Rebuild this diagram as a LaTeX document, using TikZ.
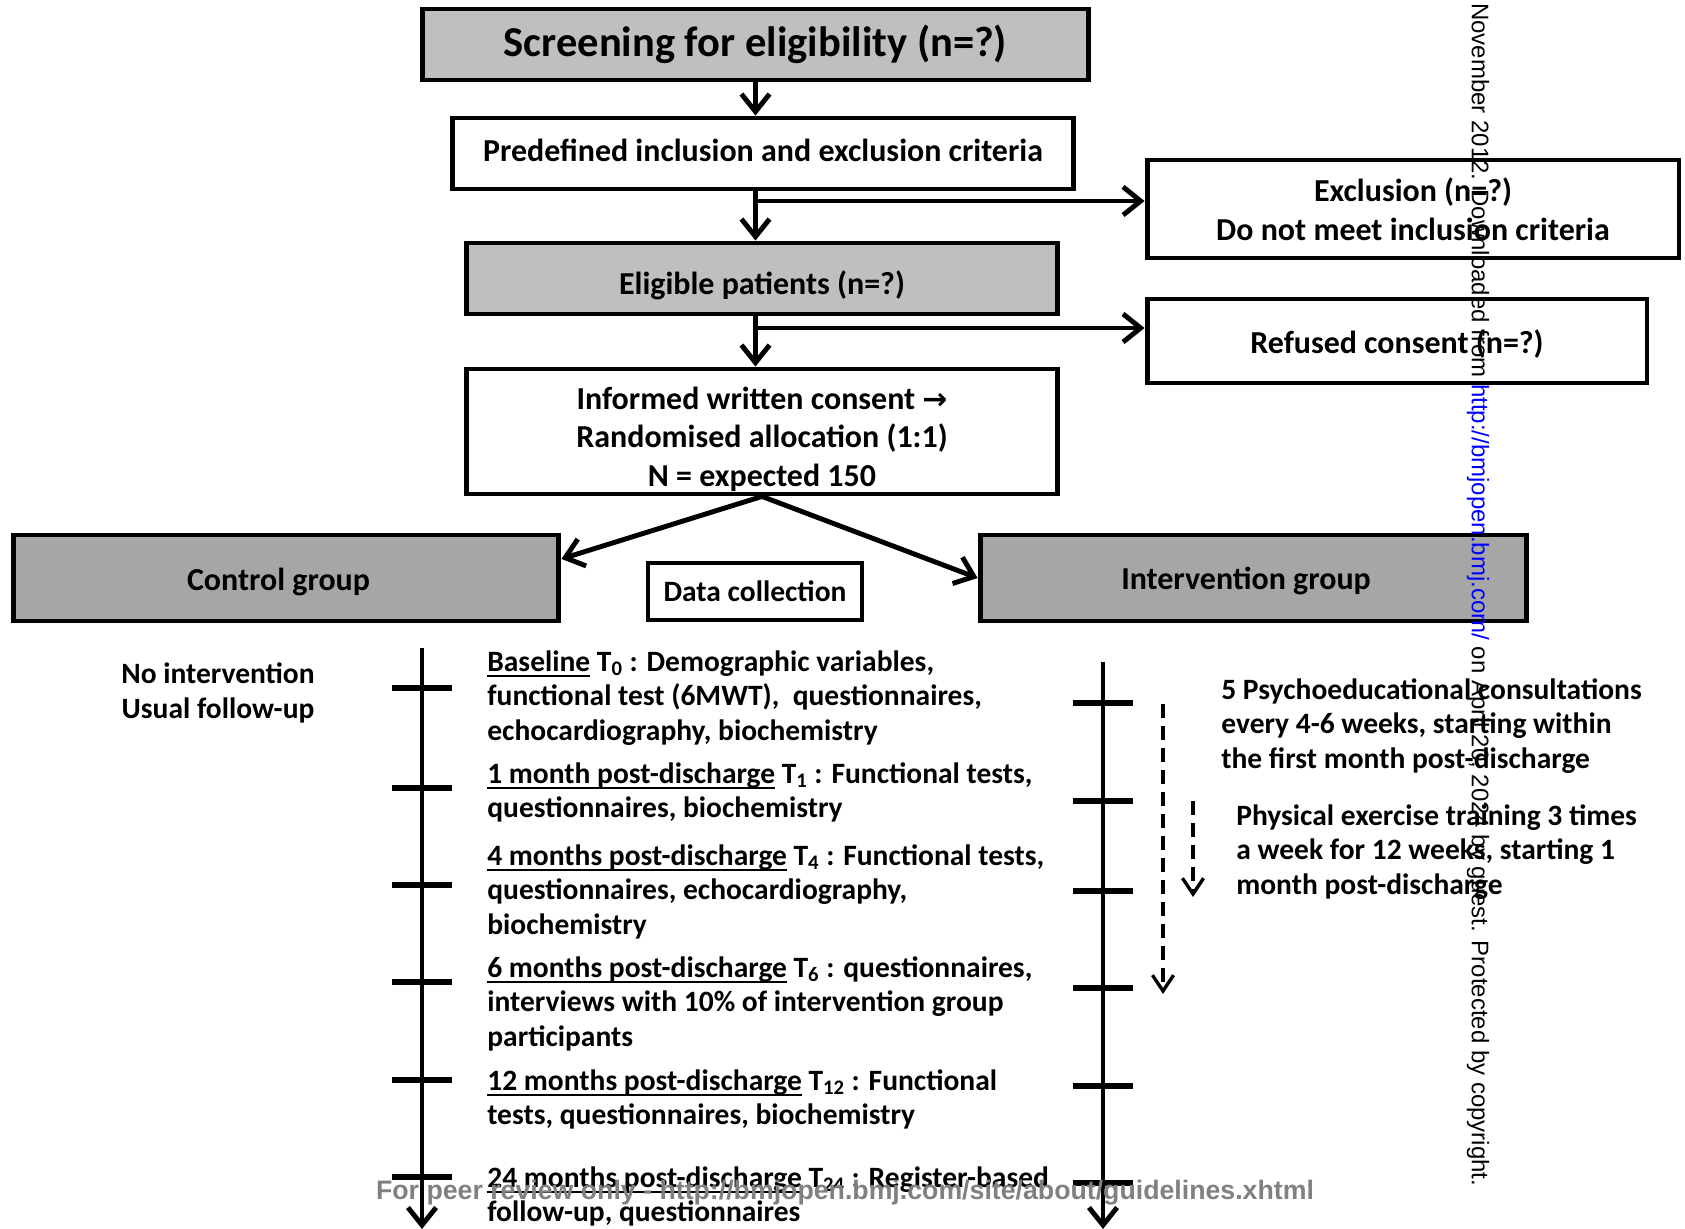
\documentclass[tikz,border=0pt]{standalone}
\usepackage{fontspec}
\usetikzlibrary{arrows.meta,positioning,calc}
\newfontfamily\calfont{Carlito}
\newfontfamily\symb{DejaVu Sans}
\newfontfamily\arialf{Liberation Sans}
\definecolor{boxGrey}{RGB}{191,191,191}
\definecolor{grpGrey}{RGB}{166,166,166}
\definecolor{wmGrey}{RGB}{128,128,128}
% strut that pushes a box text down (#1 = first line height)
\newcommand{\lowtext}[1]{\rule{0pt}{#1}}
% underline close to the baseline
\newsavebox{\ulsave}
\newcommand{\ultext}[1]{\sbox\ulsave{#1}\rlap{\rule[-3.3pt]{\wd\ulsave}{1.1pt}}\usebox\ulsave}

\begin{document}
\begin{tikzpicture}[
	x=0.02cm,y=-0.02cm,
	>={Straight Barb[length=10pt,width=16pt]},
	box/.style={
		draw,
		line width=2.8pt,
		align=center,
		inner sep=0pt,
		font=\calfont\bfseries\fontsize{18.2}{22}\selectfont
	},
	arr/.style={->,line width=2.8pt},
	axisline/.style={->,line width=2.8pt},
	tickmark/.style={line width=3.2pt},
	dasharr/.style={->,line width=1.9pt,dash pattern=on 8pt off 4.5pt,>={Straight Barb[length=9pt,width=12pt]}},
	txt/.style={
		anchor=north west,
		inner sep=0pt,
		align=left,
		font=\calfont\bfseries\fontsize{16.8}{19.8}\selectfont
	}
	]
	\useasboundingbox (0,0) rectangle (1685,1229);
	
	% flow boxes
	\node[box,fill=boxGrey,minimum width=13.34cm,minimum height=1.42cm,font=\calfont\bfseries\fontsize{24.2}{28}\selectfont](screen) at (755.5,44.5){Screening for eligibility (n=?)};
	\node[box,minimum width=12.44cm,minimum height=1.42cm](crit) at (763,153.5){Predefined inclusion and exclusion criteria\rule[-3.6pt]{0pt}{3.6pt}};
	\node[box,minimum width=10.64cm,minimum height=1.96cm](excl) at (1413,209){Exclusion (n=?)\\Do not meet inclusion criteria};
	\node[box,fill=boxGrey,minimum width=11.84cm,minimum height=1.42cm](elig) at (762,278.5){\lowtext{21pt}Eligible patients (n=?)};
	\node[box,minimum width=10cm,minimum height=1.68cm](refus) at (1397,341){\lowtext{17.3pt}Refused consent (n=?)};
	\node[box,minimum width=11.84cm,minimum height=2.5cm](cons) at (762,431.5){\lowtext{21.5pt}Informed written consent {\symb\bfseries\fontsize{17}{22}\selectfont →}\\Randomised allocation (1:1)\\N = expected 150};
	\node[box,fill=grpGrey,minimum width=10.92cm,minimum height=1.72cm](ctrl) at (286,578){\lowtext{17.8pt}Control group\hspace*{8.5pt}};
	\node[box,fill=grpGrey,minimum width=10.94cm,minimum height=1.72cm](intv) at (1253.5,578){\lowtext{16.4pt}Intervention group\hspace*{8.5pt}};
	\node[box,minimum width=4.28cm,minimum height=1.14cm,font=\calfont\bfseries\fontsize{16.8}{20}\selectfont](datac) at (755,591.5){Data collection};
	
	% connectors
	\coordinate(b1) at (755,201);
	\coordinate(b2) at (755,328);
	\draw[arr](screen.south) -- (screen.south |- crit.north);
	\draw[arr](screen.south |- crit.south) -- (screen.south |- elig.north);
	\draw[arr](b1) -- (b1 -| excl.west);
	\draw[arr](screen.south |- elig.south) -- (screen.south |- cons.north);
	\draw[arr](b2) -- (b2 -| refus.west);
	\draw[arr](cons.south) -- ($(ctrl.north east)!0.29!(ctrl.south east)$);
	\draw[arr](cons.south) -- (intv.west);
	
	% time lines
	\coordinate(l0) at (422,648);
	\coordinate(l1) at (422,1229);
	\coordinate(r0) at (1103,662);
	\coordinate(r1) at (1103,1229);
	\draw[axisline](l0) -- (l1);
	\draw[axisline](r0) -- (r1);
	\foreach \y in {688,788,885,982,1080,1177}
	\draw[tickmark](392,\y) -- (452,\y);
	\foreach \y in {703,801,891,988,1086,1183}
	\draw[tickmark](1073,\y) -- (1133,\y);
	\coordinate(d0) at (1163,704);
	\coordinate(d1) at (1163,994);
	\coordinate(e0) at (1193,801);
	\coordinate(e1) at (1193,897);
	\draw[dasharr](d0) -- (d1);
	\draw[dasharr](e0) -- (e1);
	
	% texts
	\node[align=center,inner sep=0pt,font=\calfont\bfseries\fontsize{16.8}{19.8}\selectfont](noint) at (218,693){No intervention\\Usual follow-up};
	\node[txt](t0) at (487,650){\ultext{Baseline} T\textsubscript{0} : Demographic variables,\\functional test (6MWT),\ \ questionnaires,\\echocardiography, biochemistry};
	\node[txt](t1) at (487,762){\ultext{1 month post-discharge} T\textsubscript{1} : Functional tests,\\questionnaires, biochemistry};
	\node[txt](t4) at (487,844){\ultext{4 months post-discharge} T\textsubscript{4} : Functional tests,\\questionnaires, echocardiography,\\biochemistry};
	\node[txt](t6) at (487,956){\ultext{6 months post-discharge} T\textsubscript{6} : questionnaires,\\interviews with 10\% of intervention group\\participants};
	\node[txt](t12) at (487,1069){\ultext{12 months post-discharge} T\textsubscript{12} : Functional\\tests, questionnaires, biochemistry};
	\node[txt](t24) at (487,1166){\ultext{24 months post-discharge} T\textsubscript{24} : Register-based\\follow-up, questionnaires};
	\node[txt](p1) at (1221,678){5 Psychoeducational consultations\\every 4-6 weeks, starting within\\the first month post-discharge};
	\node[txt](p2) at (1236,804){Physical exercise training 3 times\\a week for 12 weeks, starting 1\\month post-discharge};
	
	% watermarks
	\node[rotate=-90,anchor=west,inner sep=0pt,font=\arialf\fontsize{13.65}{15}\selectfont](wv) at (1478,3){November 2012. Downloaded from \textcolor{blue}{http://bmjopen.bmj.com/} on April 20, 2024 by guest. Protected by copyright.};
	\node[inner sep=0pt,text=wmGrey,font=\arialf\bfseries\fontsize{15.2}{17}\selectfont](wm) at (845,1193){For peer review only - http://bmjopen.bmj.com/site/about/guidelines.xhtml};
\end{tikzpicture}
\end{document}
